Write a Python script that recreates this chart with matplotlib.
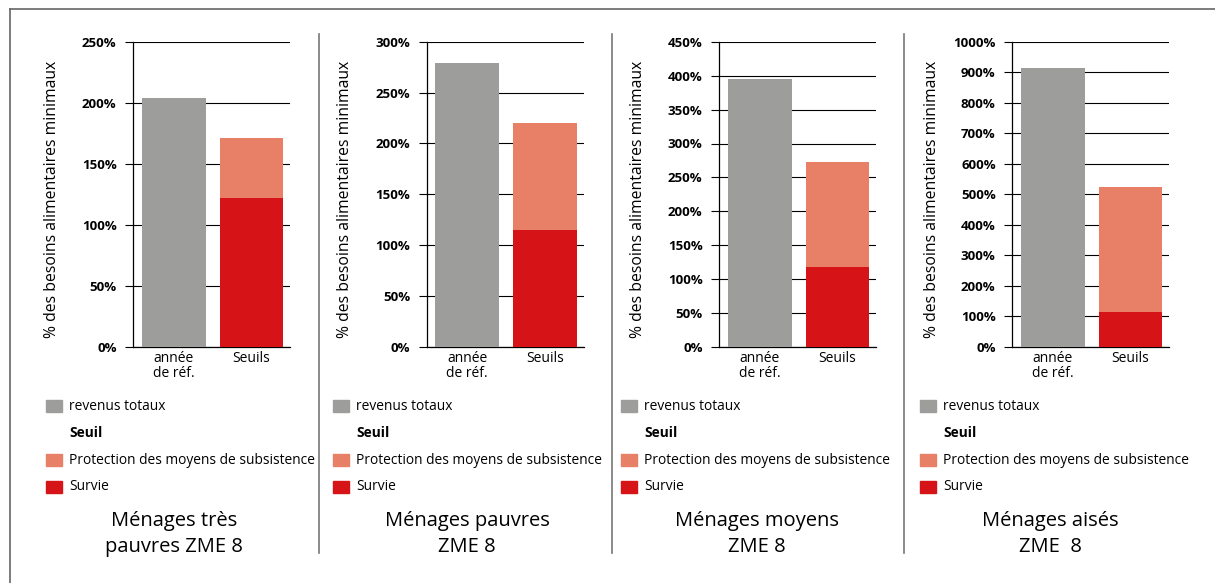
import matplotlib.pyplot as plt
from matplotlib.patches import Rectangle
from matplotlib.lines import Line2D

plt.rcParams['font.family'] = ['Open Sans', 'DejaVu Sans']

# data
categories = ['année\nde réf.', 'Seuils']
titles = ['Ménages très\npauvres ZME 8', 'Ménages pauvres\nZME 8',
          'Ménages moyens\nZME 8', 'Ménages aisés\nZME  8']
revenus = [204, 279, 396, 916]          # revenus totaux, année de réf.
survie = [122, 115, 117, 114]           # seuil de survie
protection = [171, 220, 272, 523]       # seuil de protection des moyens de subsistence
y_max = [250, 300, 450, 1000]
y_step = [50, 50, 50, 100]
legend_labels = ['revenus totaux', 'Seuil', 'Protection des moyens de subsistence', 'Survie']

GRAY = '#9d9d9c'
SALMON = '#e78066'
RED = '#d61418'
LEG_COLORS = [GRAY, None, SALMON, RED]

W, H = 1215, 583
fig = plt.figure(figsize=(W / 100, H / 100), dpi=100)


def fx(px):
    return px / W


def fy(py):
    return 1 - py / H


axes_left = [133.3, 426.7, 719.3, 1012.3]
ylabel_x = [52, 345, 638, 932]
legend_x = [46, 333, 621, 920]
title_x = [174, 467, 757, 1050]
legend_y = [406, 433, 460, 487]

for i in range(4):
    ax = fig.add_axes([fx(axes_left[i]), fy(346.5), 157 / W, (346.5 - 42) / H])
    ax.bar(0, revenus[i], width=0.82, color=GRAY, zorder=3)
    ax.bar(1, survie[i], width=0.82, color=RED, zorder=3)
    ax.bar(1, protection[i] - survie[i], bottom=survie[i], width=0.82, color=SALMON, zorder=3)
    ax.set_xlim(-0.52, 1.5)
    ax.set_ylim(0, y_max[i])
    ticks = list(range(0, y_max[i] + 1, y_step[i]))
    ax.set_yticks(ticks)
    ax.set_yticklabels([f'{t}%' for t in ticks], fontweight='bold', fontsize=9.5)
    ax.yaxis.grid(True, color='black', linewidth=0.8)
    ax.set_axisbelow(True)
    ax.set_xticks([0, 1])
    ax.set_xticklabels(categories, fontsize=10, linespacing=1.05)
    ax.tick_params(axis='x', length=0, pad=3)
    ax.tick_params(axis='y', length=6, width=0.8, pad=6)
    for side in ['top', 'right']:
        ax.spines[side].set_visible(False)
    for side in ['left', 'bottom']:
        ax.spines[side].set_linewidth(0.9)

    fig.text(fx(ylabel_x[i]), fy(199), '% des besoins alimentaires minimaux',
             rotation=90, ha='center', va='center', fontsize=11.3)

    # legend
    for lab, col, ly in zip(legend_labels, LEG_COLORS, legend_y):
        if col is not None:
            fig.add_artist(Rectangle((fx(legend_x[i]), fy(ly + 6)), 16 / W, 12 / H,
                                     transform=fig.transFigure, color=col))
            fig.text(fx(legend_x[i] + 23), fy(ly), lab, va='center', fontsize=9.9)
        else:
            fig.text(fx(legend_x[i] + 23), fy(ly), lab, va='center', fontsize=9.9,
                     fontweight='bold')

    fig.text(fx(title_x[i]), fy(534), titles[i], ha='center', va='center',
             fontsize=14.5, linespacing=1.45)

# frame and separators
fig.add_artist(Line2D([fx(10), fx(10)], [fy(8.5), 0], transform=fig.transFigure,
                      color='#666666', lw=1.2))
fig.add_artist(Line2D([fx(10), 1], [fy(8.5), fy(8.5)], transform=fig.transFigure,
                      color='#666666', lw=1.2))
for sx in [319, 612, 904]:
    fig.add_artist(Line2D([fx(sx), fx(sx)], [fy(34), fy(553)], transform=fig.transFigure,
                          color='#777777', lw=1.2))

fig.savefig('out.png', dpi=100)
